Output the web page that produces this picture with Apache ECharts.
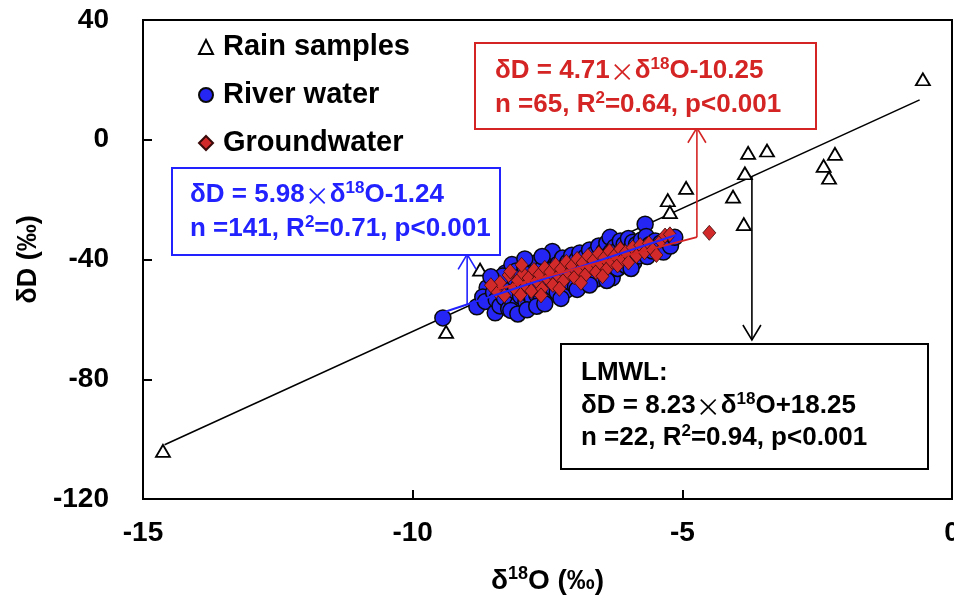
<!DOCTYPE html>
<html>
<head>
<meta charset="utf-8">
<script src="https://cdn.jsdelivr.net/npm/echarts@6/dist/echarts.min.js"></script>
<style>
  html, body { margin: 0; padding: 0; background: #ffffff; }
  #chart { width: 954px; height: 596px; }
</style>
</head>
<body>
<div id="chart"></div>
<script>
// Stable isotope data: [δ18O (‰), δD (‰)]
const rainSamples = [
  [-14.63, -103.9], [-9.38, -64.2], [-8.75, -43.4], [-8.75, -52.6],
  [-5.27, -20.2], [-5.23, -24.2], [-4.93, -16.1], [-4.06, -19.0],
  [-3.86, -28.2], [-3.84, -11.2], [-3.78, -4.4], [-3.43, -3.6],
  [-2.38, -8.7], [-2.28, -12.7], [-2.17, -4.7], [-0.54, 20.2]
];

const riverWater = [
  [-9.44, -59.5], [-8.81, -55.8], [-8.62, -49.4], [-8.70, -52.5], [-8.65, -54.0],
  [-8.47, -57.8], [-8.50, -51.0], [-8.45, -53.5], [-8.40, -49.0], [-8.38, -55.5], [-8.35, -47.0],
  [-8.30, -52.8], [-8.28, -44.5], [-8.25, -50.2], [-8.22, -56.5], [-8.20, -48.0],
  [-8.16, -41.7], [-8.15, -53.8], [-8.12, -46.2], [-8.10, -50.5], [-8.08, -43.8], [-8.05, -55.0],
  [-8.02, -48.8], [-8.00, -52.2], [-7.98, -45.5], [-7.95, -50.0], [-7.92, -42.5], [-7.90, -54.2],
  [-7.88, -47.5], [-7.85, -51.5], [-7.82, -44.2],
  [-7.80, -49.0], [-7.78, -53.0], [-7.75, -46.0], [-7.72, -41.2], [-7.70, -51.8], [-7.69, -41.0],
  [-7.66, -48.2], [-7.64, -44.8], [-7.62, -53.5], [-7.60, -46.8], [-7.58, -42.6], [-7.55, -50.2],
  [-7.52, -44.0], [-7.50, -47.8], [-7.48, -52.0], [-7.45, -40.5], [-7.43, -45.6], [-7.41, -37.3],
  [-7.40, -49.5], [-7.38, -43.0], [-7.35, -46.5], [-7.32, -51.0], [-7.30, -41.5], [-7.28, -44.8],
  [-7.25, -48.0], [-7.22, -39.5], [-7.20, -42.8], [-7.18, -46.2], [-7.15, -50.2], [-7.12, -40.8],
  [-7.10, -44.0], [-7.08, -47.5], [-7.05, -38.6], [-7.02, -42.2],
  [-7.00, -45.6], [-6.98, -49.0], [-6.95, -40.0], [-6.92, -43.2], [-6.90, -37.8], [-6.88, -46.8],
  [-6.85, -41.5], [-6.82, -44.5], [-6.80, -39.2], [-6.78, -48.0], [-6.75, -42.5], [-6.72, -36.8],
  [-6.70, -45.0], [-6.68, -40.2], [-6.65, -43.8], [-6.62, -38.0],
  [-6.60, -46.5], [-6.58, -41.0], [-6.55, -35.5], [-6.53, -43.5], [-6.50, -39.0], [-6.47, -43.4],
  [-6.45, -37.2], [-6.42, -41.8], [-6.40, -34.5], [-6.38, -44.5], [-6.36, -39.8], [-6.34, -32.6],
  [-6.32, -37.5], [-6.30, -46.1], [-6.28, -41.0], [-6.25, -35.8], [-6.22, -39.0],
  [-6.20, -43.0], [-6.18, -36.5], [-6.15, -33.8], [-6.12, -40.5], [-6.10, -38.0], [-6.08, -35.0],
  [-6.05, -42.0], [-6.02, -37.0], [-6.00, -33.0], [-5.98, -39.5], [-5.95, -36.2], [-5.92, -34.2],
  [-5.90, -41.0], [-5.88, -37.8], [-5.85, -35.0],
  [-5.80, -38.8], [-5.76, -33.5], [-5.72, -36.5], [-5.69, -28.2], [-5.67, -32.3], [-5.65, -39.0],
  [-5.60, -35.0], [-5.55, -37.2], [-5.50, -33.8], [-5.45, -36.0], [-5.40, -34.5], [-5.35, -37.5],
  [-5.28, -33.2], [-5.22, -35.5], [-5.14, -32.6],
  [-8.33, -45.5], [-8.18, -57.0], [-8.05, -58.2], [-7.88, -56.8], [-7.70, -55.6], [-7.55, -54.8],
  [-7.92, -39.8], [-7.60, -39.0], [-7.25, -53.0], [-6.95, -50.0], [-6.72, -48.5], [-6.40, -47.0],
  [-5.95, -43.0], [-8.55, -45.8]
];

const groundwater = [
  [-8.45, -50.5], [-8.38, -47.8], [-8.30, -52.0], [-8.22, -45.2], [-8.19, -44.0], [-8.12, -49.5],
  [-8.05, -47.0], [-8.00, -51.8], [-7.95, -44.8], [-7.90, -48.8],
  [-7.85, -46.2], [-7.80, -50.5], [-7.75, -43.5], [-7.70, -47.2], [-7.65, -45.0], [-7.60, -49.8],
  [-7.55, -42.8], [-7.50, -46.5], [-7.45, -44.2], [-7.40, -48.5],
  [-7.35, -41.8], [-7.30, -45.5], [-7.25, -43.2], [-7.20, -47.0], [-7.15, -40.8], [-7.10, -44.6],
  [-7.05, -42.2], [-7.00, -46.0], [-6.95, -39.8], [-6.90, -43.5],
  [-6.85, -41.2], [-6.80, -45.2], [-6.75, -38.8], [-6.70, -42.5], [-6.65, -40.4], [-6.60, -44.2],
  [-6.55, -38.0], [-6.50, -41.6], [-6.45, -39.5], [-6.40, -43.2],
  [-6.35, -37.2], [-6.30, -40.8], [-6.25, -38.6], [-6.20, -42.0], [-6.15, -36.5], [-6.10, -39.8],
  [-6.05, -37.6], [-6.00, -41.0], [-5.92, -36.0], [-5.85, -38.8],
  [-5.78, -35.2], [-5.70, -37.6], [-5.62, -34.6], [-5.55, -36.8], [-5.48, -38.5], [-5.40, -33.8],
  [-5.32, -32.0], [-5.23, -31.6],
  [-7.98, -41.8], [-7.62, -52.0], [-7.28, -49.8], [-6.88, -47.8], [-6.48, -45.6], [-8.55, -48.6],
  [-4.50, -31.1]
];

// Regression lines: LMWL, river water, groundwater
const fitSlope = [8.23, 5.98, 4.71];
const fitIntercept = [18.25, -1.24, -10.25];
const fitXRange = [[-14.6, -0.6], [-9.44, -5.10], [-8.45, -4.73]];

// Leader arrows from each fit line to its equation box
const arrowX = [-3.71, -8.99, -4.73];
const arrowEndY = [-66.9, -38.3, 4.0];

const xTicks = [-15, -10, -5, 0];
const yTicks = [-120, -80, -40, 0, 40];

const FONT = '"Liberation Sans", Arial, sans-serif';
const CROSS_FONT = '"Noto Sans CJK SC", sans-serif';
const BLUE = '#2222ff';
const RED = '#d42424';
const BLACK = '#000000';
const fitColors = [BLACK, BLUE, RED];

function fitPoints(i) {
  return fitXRange[i].map(x => [x, fitSlope[i] * x + fitIntercept[i]]);
}

const arrowData = arrowX.map((x, i) => [x, fitSlope[i] * x + fitIntercept[i], arrowEndY[i]]);

const chart = echarts.init(document.getElementById('chart'), null, { renderer: 'canvas' });

function boxRich(color) {
  return {
    n: { fontFamily: FONT, fontWeight: 'bold', fontSize: 26, lineHeight: 30, fill: color },
    x: { fontFamily: CROSS_FONT, fontWeight: 'normal', fontSize: 25, lineHeight: 30, fill: color },
    s: { fontFamily: FONT, fontWeight: 'bold', fontSize: 17, lineHeight: 20, verticalAlign: 'top', fill: color }
  };
}

function boxText(x, y, text, color) {
  return {
    type: 'text', x: x, y: y, z: 101,
    style: { text: text, rich: boxRich(color), fill: color, verticalAlign: 'middle', align: 'left' }
  };
}

const option = {
  animation: false,
  backgroundColor: '#ffffff',
  grid: {
    left: 143, right: 2, top: 20, bottom: 97,
    outerBoundsMode: 'none', containLabel: false,
    show: true, borderColor: BLACK, borderWidth: 2, backgroundColor: 'transparent'
  },
  legend: {
    orient: 'vertical', left: 193, top: 26,
    itemWidth: 14, itemHeight: 14, itemGap: 16,
    textStyle: { fontFamily: FONT, fontWeight: 'bold', fontSize: 29, color: BLACK, lineHeight: 32, padding: [0, 0, 0, 5] },
    data: ['Rain samples', 'River water', 'Groundwater'],
    selectedMode: false
  },
  xAxis: {
    type: 'value', min: -15, max: 0, interval: 5,
    name: '{n|δ}{s|18}{n|O (‰)}', nameLocation: 'middle', nameGap: 66,
    nameTextStyle: {
      rich: {
        n: { fontFamily: FONT, fontWeight: 'bold', fontSize: 28, color: BLACK, lineHeight: 32 },
        s: { fontFamily: FONT, fontWeight: 'bold', fontSize: 18, color: BLACK, lineHeight: 22, verticalAlign: 'top' }
      }
    },
    axisLine: { show: true, onZero: false, lineStyle: { color: BLACK, width: 2 } },
    axisTick: { show: true, inside: true, length: 9, lineStyle: { color: BLACK, width: 2 } },
    axisLabel: {
      margin: 20, fontFamily: FONT, fontWeight: 'bold', fontSize: 28, color: BLACK,
      formatter: v => xTicks.includes(v) ? String(v) : ''
    },
    splitLine: { show: false }
  },
  yAxis: {
    type: 'value', min: -120, max: 40, interval: 40,
    name: 'δD (‰)', nameLocation: 'middle', nameGap: 98, nameRotate: 90,
    nameTextStyle: { fontFamily: FONT, fontWeight: 'bold', fontSize: 27, color: BLACK },
    axisLine: { show: true, onZero: false, lineStyle: { color: BLACK, width: 2 } },
    axisTick: { show: true, inside: true, length: 9, lineStyle: { color: BLACK, width: 2 } },
    axisLabel: {
      margin: 34, fontFamily: FONT, fontWeight: 'bold', fontSize: 28, color: BLACK,
      formatter: v => yTicks.includes(v) ? String(v) : ''
    },
    splitLine: { show: false }
  },
  series: [
    {
      name: 'LMWL', type: 'line', data: fitPoints(0), symbol: 'none', silent: true, z: 1,
      lineStyle: { color: fitColors[0], width: 1.6 }
    },
    {
      name: 'Rain samples', type: 'scatter', data: rainSamples, symbol: 'triangle',
      symbolSize: [14, 12], z: 2,
      itemStyle: { color: '#ffffff', borderColor: BLACK, borderWidth: 1.8, opacity: 1 }
    },
    {
      name: 'River water', type: 'scatter', data: riverWater, symbol: 'circle',
      symbolSize: 16, z: 3,
      itemStyle: { color: '#2626f4', borderColor: '#0a0a0a', borderWidth: 1.5, opacity: 1 }
    },
    {
      name: 'Groundwater', type: 'scatter', data: groundwater, symbol: 'diamond',
      symbolSize: [13, 15], z: 4,
      itemStyle: { color: '#d22a2a', borderColor: '#3a0a0a', borderWidth: 0.8, opacity: 1 }
    },
    {
      name: 'River fit', type: 'line', data: fitPoints(1), symbol: 'none', silent: true, z: 5,
      lineStyle: { color: fitColors[1], width: 2 }
    },
    {
      name: 'Groundwater fit', type: 'line', data: fitPoints(2), symbol: 'none', silent: true, z: 5,
      lineStyle: { color: fitColors[2], width: 2 }
    },
    {
      name: 'Leaders', type: 'custom', data: arrowData, silent: true, z: 6, clip: false,
      encode: { x: 0, y: [1, 2] },
      renderItem: function (params, api) {
        const x = api.value(0);
        const p0 = api.coord([x, api.value(1)]);
        const p1 = api.coord([x, api.value(2)]);
        const dir = p1[1] > p0[1] ? 1 : -1;
        const color = fitColors[params.dataIndex];
        return {
          type: 'group',
          children: [
            { type: 'line', shape: { x1: p0[0], y1: p0[1], x2: p1[0], y2: p1[1] },
              style: { stroke: color, lineWidth: 1.6 } },
            { type: 'polyline',
              shape: { points: [[p1[0] - 9, p1[1] - dir * 15], [p1[0], p1[1]], [p1[0] + 9, p1[1] - dir * 15]] },
              style: { stroke: color, fill: 'none', lineWidth: 1.6 } }
          ]
        };
      }
    }
  ],
  graphic: [
    { type: 'rect', z: 100, shape: { x: 172, y: 168, width: 328, height: 87 },
      style: { fill: '#ffffff', stroke: BLUE, lineWidth: 2 } },
    boxText(190, 195, '{n|δD = 5.98}{x|×}{n|δ}{s|18}{n|O-1.24}', BLUE),
    boxText(190, 229, '{n|n =141, R}{s|2}{n|=0.71, p<0.001}', BLUE),

    { type: 'rect', z: 100, shape: { x: 475, y: 43, width: 341, height: 86 },
      style: { fill: '#ffffff', stroke: RED, lineWidth: 2 } },
    boxText(495, 71, '{n|δD = 4.71}{x|×}{n|δ}{s|18}{n|O-10.25}', RED),
    boxText(495, 105, '{n|n =65, R}{s|2}{n|=0.64, p<0.001}', RED),

    { type: 'rect', z: 100, shape: { x: 561, y: 344, width: 367, height: 125 },
      style: { fill: '#ffffff', stroke: BLACK, lineWidth: 2 } },
    boxText(581, 373, '{n|LMWL:}', BLACK),
    boxText(581, 406, '{n|δD = 8.23}{x|×}{n|δ}{s|18}{n|O+18.25}', BLACK),
    boxText(581, 438, '{n|n =22, R}{s|2}{n|=0.94, p<0.001}', BLACK)
  ]
};

chart.setOption(option);
</script>
</body>
</html>
